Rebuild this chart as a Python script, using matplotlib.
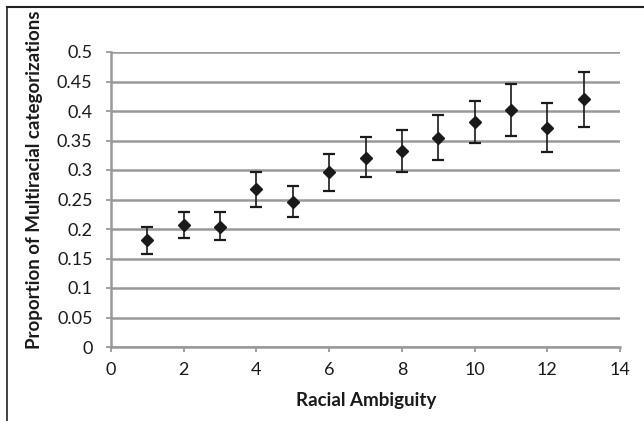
import matplotlib
matplotlib.use("Agg")
import matplotlib.pyplot as plt
from matplotlib.lines import Line2D

ambiguity = [1, 2, 3, 4, 5, 6, 7, 8, 9, 10, 11, 12, 13]
proportion = [0.181, 0.206, 0.204, 0.267, 0.246, 0.296, 0.321, 0.332, 0.355, 0.382, 0.401, 0.371, 0.420]
err_low = [0.158, 0.184, 0.182, 0.238, 0.221, 0.265, 0.288, 0.297, 0.317, 0.346, 0.358, 0.331, 0.373]
err_high = [0.204, 0.229, 0.228, 0.297, 0.273, 0.327, 0.356, 0.368, 0.394, 0.417, 0.446, 0.414, 0.466]
xticks = [0, 2, 4, 6, 8, 10, 12, 14]
yticks = [0, 0.05, 0.1, 0.15, 0.2, 0.25, 0.3, 0.35, 0.4, 0.45, 0.5]
ytick_labels = ["0", "0.05", "0.1", "0.15", "0.2", "0.25", "0.3", "0.35", "0.4", "0.45", "0.5"]

plt.rcParams['font.family'] = ['Lato', 'DejaVu Sans']

W, H = 644, 421
fig = plt.figure(figsize=(W / 100, H / 100), dpi=100)
left, right, top, bottom = 111, 620, 52, 347
ax = fig.add_axes([left / W, 1 - bottom / H, (right - left) / W, (bottom - top) / H])

lower = [p - l for p, l in zip(proportion, err_low)]
upper = [h - p for p, h in zip(proportion, err_high)]
ax.errorbar(ambiguity, proportion, yerr=[lower, upper], fmt='D', color='#1a1a1a',
            markersize=6.5, ecolor='#1a1a1a', elinewidth=1.2, capsize=4, capthick=1.6, zorder=3)

ax.set_xlim(0, 14)
ax.set_ylim(0, 0.5)
ax.set_xticks(xticks)
ax.set_xticklabels([str(t) for t in xticks])
ax.set_yticks(yticks)
ax.set_yticklabels(ytick_labels)
ax.grid(axis='y', color='#999999', linewidth=1.8, zorder=0)
ax.set_axisbelow(True)
for s in ['top', 'right']:
    ax.spines[s].set_visible(False)
for s in ['left', 'bottom']:
    ax.spines[s].set_color('#999999')
    ax.spines[s].set_linewidth(1.8)
ax.tick_params(axis='both', colors='#999999', length=3.8, width=1.3, labelcolor='#1a1a1a', labelsize=13)
ax.tick_params(axis='y', pad=9.5)
ax.tick_params(axis='x', pad=7)

ax.set_xlabel('Racial Ambiguity', fontsize=13.5, fontweight='bold', color='#1a1a1a')
ax.xaxis.set_label_coords(0.501, -0.152)
ax.set_ylabel('Proportion of Multiracial categorizations', fontsize=13.5, fontweight='bold',
              color='#1a1a1a')
ax.yaxis.set_label_coords(-0.134, 0.566)

fig.add_artist(Line2D([6.5 / W, 6.5 / W], [0, 1 - 7 / H], color='#222222', linewidth=1.2))
fig.add_artist(Line2D([6.5 / W, 1], [1 - 7 / H, 1 - 7 / H], color='#222222', linewidth=1.5))

fig.savefig('out.png', dpi=100)
